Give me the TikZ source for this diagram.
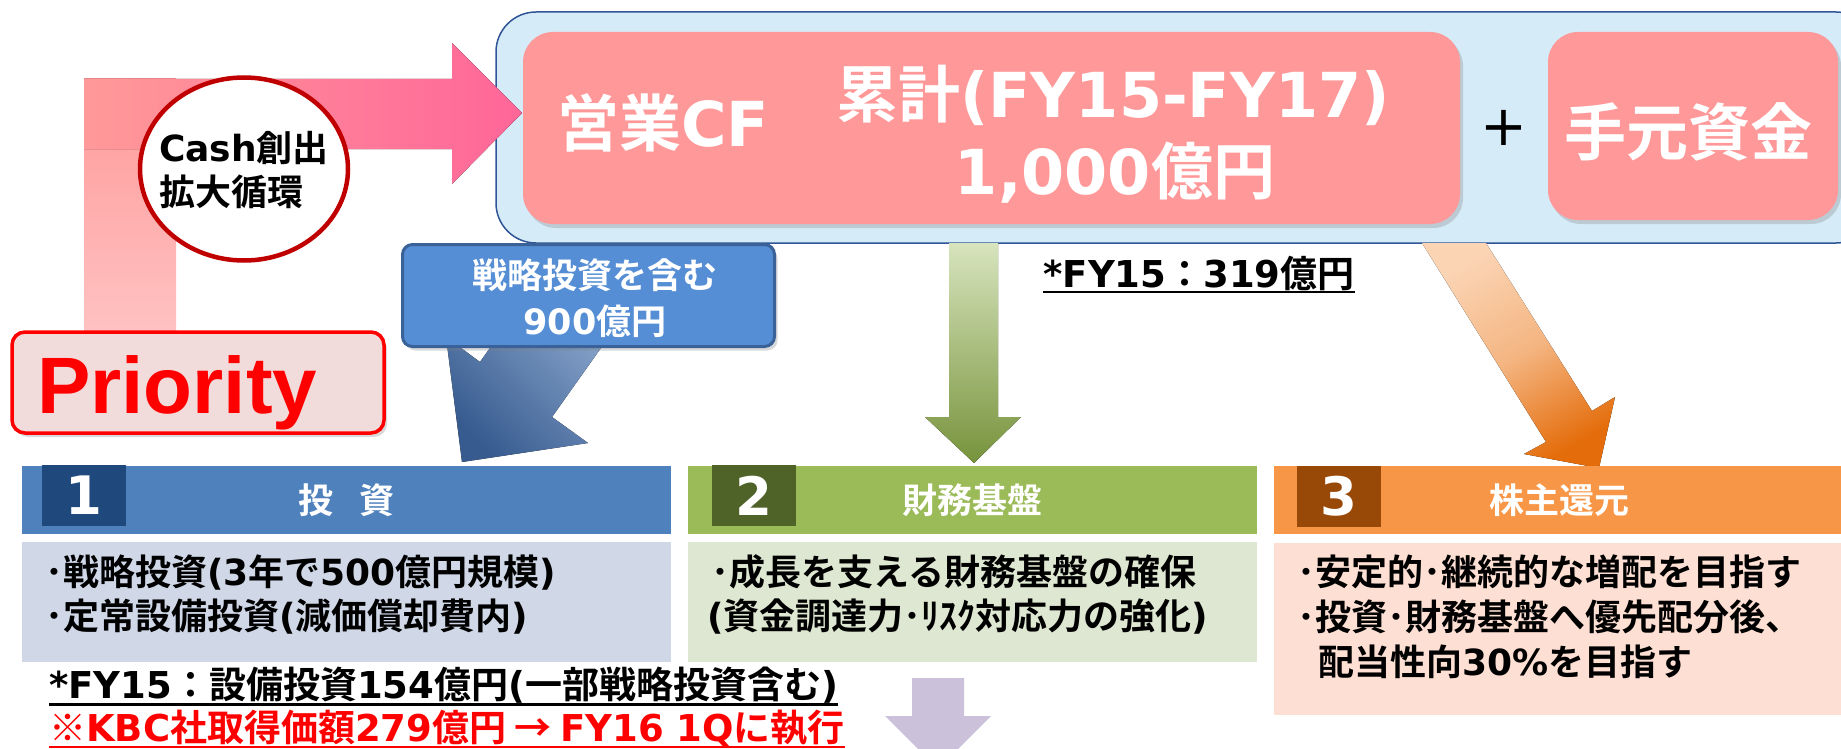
\documentclass[tikz,border=0pt]{standalone}
\usepackage{fontspec}
\setmainfont{Noto Sans CJK JP}[BoldFont={Noto Sans CJK JP Bold}]
\newfontfamily\latf{DejaVu Sans}
\newfontfamily\priof{Liberation Sans}
\usetikzlibrary{shadows,shapes.geometric}
\definecolor{outerfill}{HTML}{D6EBF8}
\definecolor{outerline}{HTML}{2F5597}
\definecolor{pinkbox}{HTML}{FF9999}
\definecolor{prioFill}{HTML}{F2DCDB}
\definecolor{callfill}{HTML}{558ED5}
\definecolor{callline}{HTML}{3A6299}
\definecolor{hdrA}{HTML}{4F81BD}
\definecolor{numA}{HTML}{1F497D}
\definecolor{bodyA}{HTML}{D0D8E8}
\definecolor{hdrB}{HTML}{9BBB59}
\definecolor{numB}{HTML}{4F6228}
\definecolor{bodyB}{HTML}{DEE7D1}
\definecolor{hdrC}{HTML}{F79646}
\definecolor{numC}{HTML}{984807}
\definecolor{bodyC}{HTML}{FDDFD3}
\definecolor{circleline}{HTML}{C00000}
\definecolor{purp}{HTML}{CCC1DA}
\definecolor{pinkA}{HTML}{FF9999}
\definecolor{pinkB}{HTML}{FF6699}
\definecolor{pinkC}{HTML}{FFC2C2}
\definecolor{blueL}{HTML}{8EAAD0}
\definecolor{blueD}{HTML}{375B8F}
\definecolor{greenL}{HTML}{D7E4BD}
\definecolor{greenD}{HTML}{77933C}
\definecolor{orangeL}{HTML}{FBD4B4}
\definecolor{orangeD}{HTML}{E46C0A}
\newcommand{\LA}[1]{{\latf #1}}
\newcommand{\fsz}[1]{\fontsize{#1}{#1}\selectfont}
\begin{document}
\begin{tikzpicture}[x=1pt,y=-1pt,
  shad/.style={drop shadow={opacity=0.3,shadow xshift=3pt,shadow yshift=-4pt}},
  box/.style={anchor=north west,inner sep=0pt,outer sep=0pt},
  wt/.style={text=white,inner sep=0pt},
  bt/.style={text=black,inner sep=0pt},
  big/.style={font={\fsz{62}\bfseries}},
  hdrfont/.style={font={\fsz{35}\bfseries}},
  numfont/.style={font={\fsz{53}\bfseries}},
  bodyfont/.style={font={\fsz{36}\bfseries},anchor=west},
  notefont/.style={font={\fsz{37}\bfseries},anchor=west},
]
\useasboundingbox (0,0) rectangle (1841,749);

% top container
\node[box, draw=outerline, line width=1.5pt, fill=outerfill, rounded corners=40pt,
      minimum width=1380pt, minimum height=231pt] (outer) at (496,12) {};
\node[box, fill=pinkbox, rounded corners=30pt, minimum width=937pt,
      minimum height=192pt, shad] (cf) at (523,32) {};
\node[box, fill=pinkbox, rounded corners=30pt, minimum width=290pt,
      minimum height=188pt, shad] (cash) at (1548,32) {};
\node[wt, big] (t1) at (663,123) {営業\LA{CF}};
\node[wt, big] (t2) at (1113,95) {累計\LA{(FY15-FY17)}};
\node[wt, big] (t3) at (1115,173) {\LA{1,000}億円};
\node[bt, font={\latf\fsz{56}}] (plus) at (1504,128) {+};
\node[wt, big] (t5) at (1688,132) {手元資金};

% pink loop arrow
\fill[top color=pinkA, bottom color=pinkC] (84,79) rectangle (176,335);
\fill[left color=pinkA, right color=pinkB] (84,79) -- (452,79) -- (452,43) -- (522,113)
  -- (452,184) -- (452,149) -- (84,149) -- cycle;
\node[ellipse, draw=circleline, line width=4.5pt, fill=white,
      minimum width=208pt, minimum height=183pt] (loop) at (244,169) {};
\node[bt, align=left, anchor=west, font={\fontsize{36}{44}\selectfont\bfseries}]
  (looptxt) at (159,170) {\LA{Cash}創出\\拡大循環};

% priority
\node[box, draw=red, line width=3.5pt, fill=prioFill, rounded corners=13pt,
      minimum width=372pt, minimum height=101pt, shad] (prio) at (12,332) {};
\node[anchor=base west, inner sep=0pt, text=red,
      font={\priof\fontsize{80}{80}\selectfont\bfseries}] (priot) at (37,413) {Priority};

% blue arrow + callout
\fill[top color=blueL, bottom color=blueD, shading angle=-45]
  (524,300) -- (480,362) -- (446,337) -- (462,462) -- (588,443) -- (552,417) -- (635,300) -- cycle;
\node[box, draw=callline, line width=3pt, fill=callfill, rounded corners=10pt,
      minimum width=372pt, minimum height=102pt, shad] (call) at (402.5,244.5) {};
\node[wt, font={\fsz{35}\bfseries}] (c1) at (595,275) {戦略投資を含む};
\node[wt, font={\fsz{35}\bfseries}] (c2) at (595,321) {\LA{900}億円};

% green arrow
\fill[top color=greenL, bottom color=greenD]
  (949,243) -- (998,243) -- (998,417) -- (1021,417) -- (974,463) -- (925,417) -- (949,417) -- cycle;
\node[bt, font={\fsz{37}\bfseries}] (n319) at (1199,273) {\LA{*FY15}：\LA{319}億円};
\draw[line width=2.5pt] ([yshift=-5pt]n319.base west) -- ([yshift=-5pt]n319.base east);

% orange arrow
\fill[top color=orangeL, bottom color=orangeD, middle color=orangeL!70!orangeD, shading angle=30]
  (1422,243) -- (1486,243) -- (1592,411) -- (1615,397) -- (1599,468) -- (1524,454) -- (1546,442) -- cycle;

% headers
\node[box, fill=hdrA, minimum width=649pt, minimum height=68pt] (hA) at (22,466) {};
\node[box, fill=numA, minimum width=84pt, minimum height=61pt] (nA) at (42,465) {};
\node[wt, numfont] (nAt) at (nA.center) {\LA{1}};
\node[wt, hdrfont] (hAt) at (hA.center) {投\hspace{27pt}資};

\node[box, fill=hdrB, minimum width=569pt, minimum height=68pt] (hB) at (688,466) {};
\node[box, fill=numB, minimum width=84pt, minimum height=61pt] (nB) at (712,465) {};
\node[wt, numfont] (nBt) at (nB.center) {\LA{2}};
\node[wt, hdrfont] (hBt) at (hB.center) {財務基盤};

\node[box, fill=hdrC, minimum width=570pt, minimum height=68pt] (hC) at (1274,466) {};
\node[box, fill=numC, minimum width=84pt, minimum height=61pt] (nC) at (1297,466) {};
\node[wt, numfont] (nCt) at (nC.center) {\LA{3}};
\node[wt, hdrfont] (hCt) at (hC.center) {株主還元};

% bodies
\node[box, fill=bodyA, minimum width=649pt, minimum height=120pt] (bA) at (22,542) {};
\node[bt, bodyfont] (a1) at (45,572) {･戦略投資\LA{(3}年で\LA{500}億円規模\LA{)}};
\node[bt, bodyfont] (a2) at (45,617) {･定常設備投資\LA{(}減価償却費内\LA{)}};

\node[box, fill=bodyB, minimum width=569pt, minimum height=120pt] (bB) at (688,542) {};
\node[bt, bodyfont] (b1) at (711,572) {･成長を支える財務基盤の確保};
\node[bt, bodyfont] (b2) at (707,617) {\LA{(}資金調達力･ﾘｽｸ対応力の強化\LA{)}};

\node[box, fill=bodyC, minimum width=570pt, minimum height=172pt] (bC) at (1274,543) {};
\node[bt, bodyfont] (c31) at (1297,572) {･安定的･継続的な増配を目指す};
\node[bt, bodyfont] (c32) at (1297,617) {･投資･財務基盤へ優先配分後、};
\node[bt, bodyfont] (c33) at (1318,662) {配当性向\LA{30\%}を目指す};

% notes
\node[bt, notefont] (note1) at (49,685) {\LA{*FY15}：設備投資\LA{154}億円\LA{(}一部戦略投資含む\LA{)}};
\draw[line width=2.5pt] ([yshift=-6pt]note1.base west) -- ([yshift=-6pt]note1.base east);
\node[text=red, inner sep=0pt, notefont] (note2) at (49,728) {※\LA{KBC}社取得価額\LA{279}億円 → \LA{FY16 1Q}に執行};
\draw[red, line width=2.5pt] ([yshift=-6pt]note2.base west) -- ([yshift=-6pt]note2.base east);

% purple arrow
\fill[purp] (912,678) -- (964,678) -- (964,716) -- (991,716) -- (938,769) -- (885,716) -- (912,716) -- cycle;
\end{tikzpicture}
\end{document}
